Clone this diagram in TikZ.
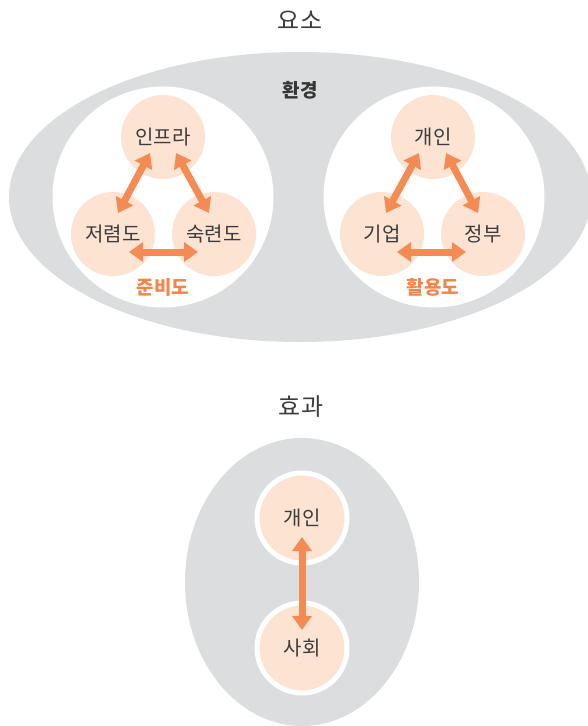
\documentclass[tikz,border=0pt]{standalone}
\usepackage{fontspec}
\setmainfont{Noto Sans CJK KR}
\usetikzlibrary{arrows.meta,calc}
\definecolor{ellgray}{HTML}{DCDDDF}
\definecolor{peach}{HTML}{FDE3D2}
\definecolor{arrorange}{HTML}{F48B55}
\definecolor{txt}{HTML}{3C3C3C}
\definecolor{lblorange}{HTML}{F3844A}
\begin{document}
\begin{tikzpicture}[x=1pt,y=-1pt,
  bubble/.style={circle,fill=peach,minimum size=84pt,inner sep=0pt,text=txt,font=\fontsize{20}{24}\selectfont},
  ringbubble/.style={bubble,draw=white,line width=5pt,minimum size=90pt},
  holder/.style={circle,fill=white,minimum size=221pt,inner sep=0pt},
  link/.style={arrorange,line width=7pt,{Triangle[width=19pt,length=14pt]}-{Triangle[width=19pt,length=14pt]}},
  title/.style={text=txt,font=\fontsize{24}{28}\selectfont},
  grouplbl/.style={text=lblorange,font=\fontsize{19}{22}\selectfont\bfseries}
]
\useasboundingbox (0,0) rectangle (587,726);
% top section
\node[title] (yoso) at (300,20) {요소};
\fill[ellgray] (300,197) ellipse [x radius=291, y radius=145];
\node[text=txt!90!black,font=\fontsize{19}{22}\selectfont\bfseries] (env) at (300,90) {환경};
\node[holder] (holdL) at (163,197) {};
\node[holder] (holdR) at (434,197) {};
\node[bubble] (infra) at (163,137) {인프라};
\node[bubble] (jeo) at (113,234) {저렴도};
\node[bubble] (suk) at (214,234) {숙련도};
\node[grouplbl] (junbi) at (163,287) {준비도};
\node[bubble] (gaein) at (433,137) {개인};
\node[bubble] (gieop) at (382,234) {기업};
\node[bubble] (jeongbu) at (483,234) {정부};
\node[grouplbl] (hwal) at (433,287) {활용도};
\draw[link] ($(infra)+(-13,16)$) -- ($(jeo)+(5,-21)$);
\draw[link] ($(infra)+(13,16)$) -- ($(suk)+(-5,-21)$);
\draw[link] ($(jeo)+(16,18)$) -- ($(suk)+(-16,18)$);
\draw[link] ($(gaein)+(-14,16)$) -- ($(gieop)+(4,-21)$);
\draw[link] ($(gaein)+(13,16)$) -- ($(jeongbu)+(-5,-21)$);
\draw[link] ($(gieop)+(15,18)$) -- ($(jeongbu)+(-17,18)$);
% bottom section
\node[title] (hyogwa) at (301,407) {효과};
\fill[ellgray] (302,582) ellipse [x radius=117, y radius=144];
\node[ringbubble] (person) at (302,518) {개인};
\node[ringbubble] (society) at (302,648) {사회};
\draw[link] ($(person)+(0,19)$) -- ($(society)+(0,-18)$);
\end{tikzpicture}
\end{document}
